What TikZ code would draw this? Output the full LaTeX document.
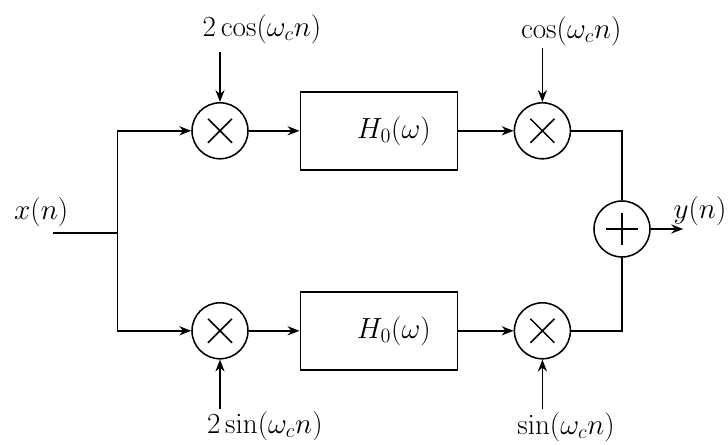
\documentclass[tikz,border=0pt]{standalone}
\usepackage{amsmath}
\usetikzlibrary{arrows.meta,positioning}

\begin{document}
\begin{tikzpicture}[>={Stealth[length=8.5pt,width=6.5pt]}, line width=1.1pt,
  mixer/.style={circle, draw, minimum size=1.4cm, inner sep=0pt,
    path picture={\draw ([shift={(-0.3,-0.3)}]path picture bounding box.center) -- ([shift={(0.3,0.3)}]path picture bounding box.center)
                        ([shift={(-0.3,0.3)}]path picture bounding box.center) -- ([shift={(0.3,-0.3)}]path picture bounding box.center);}},
  adder/.style={circle, draw, minimum size=1.4cm, inner sep=0pt,
    path picture={\draw ([xshift=-0.4cm]path picture bounding box.center) -- ([xshift=0.4cm]path picture bounding box.center)
                        ([yshift=-0.4cm]path picture bounding box.center) -- ([yshift=0.4cm]path picture bounding box.center);}},
  filterbox/.style={draw, minimum width=3.925cm, minimum height=1.95cm, font=\fontsize{21.8}{26}\selectfont},
  lbl/.style={inner sep=0pt, font=\fontsize{21.8}{26}\selectfont}]
  \useasboundingbox (0,0) rectangle (18.2,11.1);

  % upper branch
  \node[mixer] (mulA) at (5.5,7.83) {};
  \node[filterbox] (boxA) at (9.47,7.83) {\hspace*{0.75cm}$H_0(\omega)$};
  \node[mixer] (mulC) at (13.56,7.83) {};
  % lower branch
  \node[mixer] (mulB) at (5.5,2.83) {};
  \node[filterbox] (boxB) at (9.47,2.83) {\hspace*{0.75cm}$H_0(\omega)$};
  \node[mixer] (mulD) at (13.56,2.83) {};
  \node[adder] (sum) at (15.55,5.375) {};

  % signals and carriers
  \node[lbl] (xin) at (1.03,5.8) {$x(n)$};
  \node[lbl] (yout) at (17.5,5.82) {$y(n)$};
  \node[lbl] (cosA) at (6.55,10.37) {$2\cos(\omega_c n)$};
  \node[lbl] (cosC) at (14.28,10.33) {$\cos(\omega_c n)$};
  \node[lbl] (sinB) at (6.62,0.45) {$2\sin(\omega_c n)$};
  \node[lbl] (sinD) at (14.15,0.42) {$\sin(\omega_c n)$};

  \coordinate (in) at (1.33,5.27);
  \coordinate (split) at (2.94,5.27);
  \coordinate (out) at (17.08,5.375);
  \coordinate (cA) at (5.5,9.8);
  \coordinate (cC) at (13.56,9.9);
  \coordinate (cB) at (5.5,0.88);
  \coordinate (cD) at (13.56,0.88);

  \draw (in) -- (split);
  \draw[->] (split) |- (mulA);
  \draw[->] (split) |- (mulB);
  \draw[->] (mulA) -- (boxA);
  \draw[->] (mulB) -- (boxB);
  \draw[->] (boxA) -- (mulC);
  \draw[->] (boxB) -- (mulD);
  \draw (mulC) -| (sum);
  \draw (mulD) -| (sum);
  \draw[->] (sum) -- (out);
  \draw[->] (cA) -- (mulA);
  \draw[->] (cC) -- (mulC);
  \draw[->] (cB) -- (mulB);
  \draw[->] (cD) -- (mulD);
\end{tikzpicture}
\end{document}
